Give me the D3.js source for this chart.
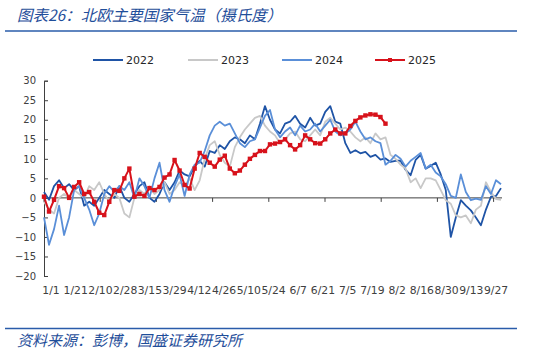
<!doctype html>
<html lang="zh">
  <head>
    <meta charset="utf-8">
    <title>北欧主要国家气温</title>
    <script src="https://d3js.org/d3.v7.min.js"></script>
    <style>
      body { margin: 0; background: #fff; }
      text { font-family: "DejaVu Sans", sans-serif; }
      .cjk { font-family: "Noto Sans CJK SC", sans-serif; font-style: italic; }
    </style>
  </head>

  <body>
    <svg width="533" height="354"></svg>
    <script>
      // x-axis labels as printed on the chart
      var xLabels = ['1/1','1/21','2/10','2/28','3/15','3/29','4/12','4/26','5/10','5/24',
                     '6/7','6/21','7/5','7/19','8/2','8/16','8/30','9/13','9/27'];
      var yTicks = [-20,-15,-10,-5,0,5,10,15,20,25,30];
      var years = ['2022','2023','2024','2025'];

      // temperatures, one value per step along the year (92 steps)
      var t2022 = [1.5,-0.5,3,4.5,2.5,3.5,2,3,-2,-1,-2,0,2,1,0,3,0,-1,1,3,
                   4,0,-1,1,4,2,4,7,6,5.5,8,9.5,8,12,11.5,13.5,12.5,14.5,15.5,15,
                   14,16,15,19,23.5,20,17.5,16.5,19,19.5,21,19,18,20.5,18.5,19,22,23.5,19.5,19,
                   14,11.5,12.2,11.4,11.8,10.5,11,9.8,10.1,9.2,9.5,9.5,7.2,5.8,9.7,11,7.5,8.2,9,6,
                   2,-10,-5,-0.6,-2,-3.2,-5,-7,-3,0.3,0.5,2.5];
      var t2023 = [-1,-3,-4,0,1,0,2,1,0,3,2,4,1,-1,1,0,-4,-5,0,2,
                   1,3,1,2,4,1,2,4,3,5,2,4.5,10,13.5,14.5,11,9,8,13,15.5,
                   17.5,19,20.5,21,18.5,17,16,14,15,16.5,17,15,14.5,16,17.5,16,19.5,20.5,19,17.5,
                   18,17,15.5,14.5,15.5,14,16.5,15,15.5,11,10,8.5,7.5,4,5,2.5,5,5,4.5,2,
                   -0.6,-1.5,-4.5,-5,-4.5,-6.5,-3,-2,4,1.5,-0.3,-0.5];
      var t2024 = [-5,-12,-8,-2,-9.5,-5,2,3,0,-3,-7,-4,1,3,1.5,3,2,4,0,5,
                   3,0,5,9,2,-1,3,6,0.5,6,8.5,9,12,16,18.5,19.5,18.5,19,16.5,14,
                   13,14.5,15,18,21,22.5,17.5,15.5,17,18,16,18.5,17,17.5,19,17,18.5,20,17,16,
                   16.5,17.5,19.5,17,15,15.5,14.5,14,8.5,9.5,11,10,8,9.5,10.5,11.5,7.5,8.5,6.5,5.5,
                   3.5,0.5,0,6,1.5,-0.6,-0.2,-0.5,3,1,4.5,3.5];
      var t2025 = [0.3,-3.5,-0.5,3,2.5,0,2.8,4,1,1.5,-1,-3.8,-4.4,-1,2,1.8,5,7.5,0.3,1,
                   0.5,2.5,2,2.8,5.2,6,9.7,7,3.3,2.4,7.5,11.5,10.5,9,8,9.8,10.8,7.5,6.3,7,
                   8.5,10,11,12,12,13.7,13.9,14.3,15,13.5,12.4,13.5,16,15,14,13.9,15,16.5,17.5,16.5,
                   16.5,18.4,19.7,20.6,21.1,21.4,21.3,20.7,19];

      var series = [t2022, t2023, t2024, t2025];
      var colors = ['#1f54a6', '#c8c8c8', '#5a8fd8', '#d7121b'];

      var svg = d3.select('svg');

      // title and rules
      svg.append('text').attr('class', 'cjk')
        .attr('x', 17).attr('y', 21)
        .attr('font-size', 15.5).attr('fill', '#1f4e9a')
        .text('图表26：北欧主要国家气温（摄氏度）');
      svg.append('line')
        .attr('x1', 5).attr('x2', 517).attr('y1', 31).attr('y2', 31)
        .attr('stroke', '#2a5caa').attr('stroke-width', 1.5);
      svg.append('line')
        .attr('x1', 5).attr('x2', 517).attr('y1', 328.5).attr('y2', 328.5)
        .attr('stroke', '#2a5caa').attr('stroke-width', 1.5);
      svg.append('text').attr('class', 'cjk')
        .attr('x', 17).attr('y', 346)
        .attr('font-size', 15).attr('fill', '#1f4e9a')
        .text('资料来源：彭博，国盛证券研究所');

      var plotL = 44, plotR = 501, plotT = 80.7, plotB = 276;

      var x = d3.scaleLinear().domain([0, t2022.length - 1]).range([plotL, plotR]);
      var y = d3.scaleLinear().domain([-20, 30]).range([plotB, plotT]);
      var xl = d3.scalePoint().domain(xLabels).range([51, 496]);
      var xt = d3.scaleLinear().domain([0, 8]).range([plotL, 493.6]);

      // y axis
      var yAxis = d3.axisLeft(y).tickValues(yTicks).tickSize(-4).tickPadding(8);
      var gy = svg.append('g').attr('transform', 'translate(' + plotL + ',0)').call(yAxis);
      gy.select('.domain').attr('stroke', '#404040');
      gy.selectAll('.tick line').attr('stroke', '#404040');
      gy.selectAll('text').attr('font-size', 10).attr('fill', '#404040')
        .attr('font-family', 'DejaVu Sans');

      // x axis at zero
      svg.append('line')
        .attr('x1', plotL).attr('x2', plotR + 1)
        .attr('y1', y(0)).attr('y2', y(0))
        .attr('stroke', '#404040').attr('stroke-width', 1);
      svg.selectAll('.xtick').data(d3.range(9)).enter().append('line')
        .attr('x1', function(d){ return xt(d); }).attr('x2', function(d){ return xt(d); })
        .attr('y1', y(0)).attr('y2', y(0) + 4)
        .attr('stroke', '#404040');
      svg.selectAll('.xlab').data(xLabels).enter().append('text')
        .attr('x', function(d){ return xl(d); })
        .attr('y', 294)
        .attr('text-anchor', 'middle')
        .attr('font-size', 10.8).attr('fill', '#404040')
        .text(function(d){ return d; });

      var line = d3.line()
        .x(function(d, i){ return x(i); })
        .y(function(d){ return y(d); });

      series.forEach(function(s, k){
        svg.append('path')
          .attr('d', line(s))
          .attr('fill', 'none')
          .attr('stroke', colors[k])
          .attr('stroke-width', k === 3 ? 2 : 1.8)
          .attr('stroke-linejoin', 'round');
      });

      svg.selectAll('.mk').data(t2025).enter().append('rect')
        .attr('x', function(d, i){ return x(i) - 2.2; })
        .attr('y', function(d){ return y(d) - 2.2; })
        .attr('width', 4.4).attr('height', 4.4)
        .attr('fill', colors[3]);

      // legend
      var legX = [93, 188, 282, 375];
      years.forEach(function(yr, k){
        svg.append('line')
          .attr('x1', legX[k]).attr('x2', legX[k] + 30)
          .attr('y1', 60).attr('y2', 60)
          .attr('stroke', colors[k]).attr('stroke-width', 2);
        if (k === 3) {
          svg.append('rect')
            .attr('x', legX[k] + 13).attr('y', 58).attr('width', 4).attr('height', 4)
            .attr('fill', colors[k]);
        }
        svg.append('text')
          .attr('x', legX[k] + 33).attr('y', 64)
          .attr('font-size', 11).attr('fill', '#262626')
          .text(yr);
      });
    </script>
  </body>
</html>
